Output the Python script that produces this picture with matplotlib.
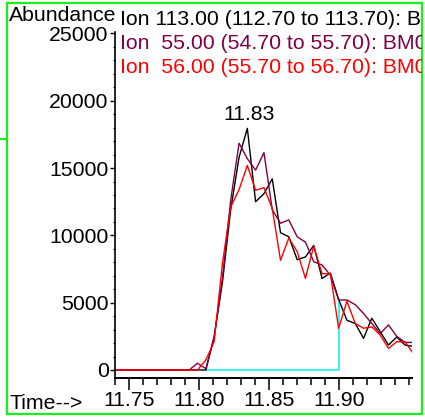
import matplotlib
matplotlib.use('Agg')
import matplotlib.pyplot as plt
from matplotlib.ticker import MultipleLocator, FormatStrFormatter
from matplotlib.lines import Line2D

# ---------------- data ----------------
times = [11.7394, 11.7454, 11.7513, 11.7572, 11.7632, 11.7691, 11.7750, 11.7809,
         11.7869, 11.7928, 11.7987, 11.8047, 11.8106, 11.8165, 11.8224, 11.8284,
         11.8343, 11.8402, 11.8462, 11.8521, 11.8580, 11.8639, 11.8699, 11.8758,
         11.8817, 11.8877, 11.8936, 11.8995, 11.9054, 11.9114, 11.9173, 11.9232,
         11.9292, 11.9351, 11.9410, 11.9470, 11.9529]

ion113 = [0, 0, 0, 0, 0, 0, 0, 0, 0, 0, 0, 0, 2500, 6500, 11900, 15800,
          17950, 12500, 13100, 14200, 10200, 9900, 8200, 8400, 9250, 6800,
          7200, 5250, 3700, 3450, 2350, 3850, 2850, 1850, 2450, 1850, 1750]

ion55 = [0, 0, 0, 0, 0, 0, 0, 0, 0, 0, 500, 100, 2400, 6800, 12600, 16850,
         15700, 14850, 16150, 11900, 10900, 11150, 9900, 9500, 8050, 7800,
         7050, 5200, 5200, 4850, 4200, 3450, 2700, 3350, 2500, 2050, 2050]

ion56 = [0, 0, 0, 0, 0, 0, 0, 0, 0, 0, 0, 750, 2100, 7900, 12100, 13400,
         15200, 13350, 13550, 12000, 8150, 9800, 8800, 6800, 9200, 7150,
         7150, 3100, 5100, 3450, 3100, 3200, 2600, 1600, 2100, 2100, 1200]

legend_labels = ["Ion 113.00 (112.70 to 113.70): BM0",
                 "Ion  55.00 (54.70 to 55.70): BM0",
                 "Ion  56.00 (55.70 to 56.70): BM0"]
series_colors = ["#000000", "#800046", "#FF0000"]

integ_start_idx = 11
integ_end_idx = 27

xticks = [11.75, 11.80, 11.85, 11.90]
yticks = [0, 5000, 10000, 15000, 20000, 25000]
xlim = (11.7398, 11.9519)
ylim = (-595, 25110)

# ---------------- figure ----------------
plt.rcParams['font.family'] = ['Liberation Sans', 'DejaVu Sans']
W, H = 425, 417
FS = 15.3
GREEN = '#19F019'

fig = plt.figure(figsize=(W / 100, H / 100), dpi=100)

# frame axes (pixel coordinates within the green box)
frame = fig.add_axes([7 / W, 3 / H, 415 / W, 411 / H])
frame.set_xlim(0, 415)
frame.set_ylim(411, 0)
frame.set_xticks([])
frame.set_yticks([])
frame.patch.set_alpha(0)
for s in frame.spines.values():
    s.set_color(GREEN)
    s.set_linewidth(1.6)

fig.add_artist(Line2D([0, 7 / W], [1 - 139 / H, 1 - 139 / H],
                      transform=fig.transFigure, color=GREEN, lw=1.5))

frame.text(1.5, 18, "Abundance", fontsize=FS, ha='left', va='baseline', clip_on=True)
frame.text(2, 406, "Time-->", fontsize=FS, ha='left', va='baseline', clip_on=True)
text_y = [22, 46, 70]
for lab, col, ty in zip(legend_labels, series_colors, text_y):
    frame.text(113.5, ty, lab, fontsize=FS, color=col, ha='left', va='baseline',
                clip_on=True)

# main axes
ax = fig.add_axes([115 / W, (H - 378) / H, 297 / W, 346 / H])
ax.patch.set_alpha(0)
ax.set_xlim(*xlim)
ax.set_ylim(*ylim)
for side in ['top', 'right']:
    ax.spines[side].set_visible(False)
ax.spines['left'].set_linewidth(1.2)
ax.spines['bottom'].set_linewidth(1.4)

ax.plot([times[integ_start_idx], times[integ_end_idx], times[integ_end_idx]],
        [0, 0, ion113[integ_end_idx]], color='#3CF2F2', lw=1.4, zorder=1)
for ys, col in zip([ion113, ion55, ion56], series_colors):
    ax.plot(times, ys, color=col, lw=1.0, zorder=2)

ax.set_xticks(xticks)
ax.xaxis.set_major_formatter(FormatStrFormatter('%.2f'))
ax.xaxis.set_minor_locator(MultipleLocator(0.01))
ax.set_yticks(yticks)
ax.yaxis.set_minor_locator(MultipleLocator(1000))
ax.tick_params(axis='x', which='major', length=8.6, width=1.1, pad=1, labelsize=FS)
ax.tick_params(axis='x', which='minor', length=5, width=1.1)
ax.tick_params(axis='y', which='major', length=3.5, width=1.0, pad=1, labelsize=FS)
ax.tick_params(axis='y', which='minor', length=1.6, width=0.8)

pk = max(range(len(ion113)), key=lambda i: ion113[i])
ax.annotate(f"{times[pk]:.2f}", (times[pk], ion113[pk]), xytext=(2, 4),
            textcoords='offset pixels', ha='center', va='bottom', fontsize=FS)

fig.savefig('out.png', dpi=100)
